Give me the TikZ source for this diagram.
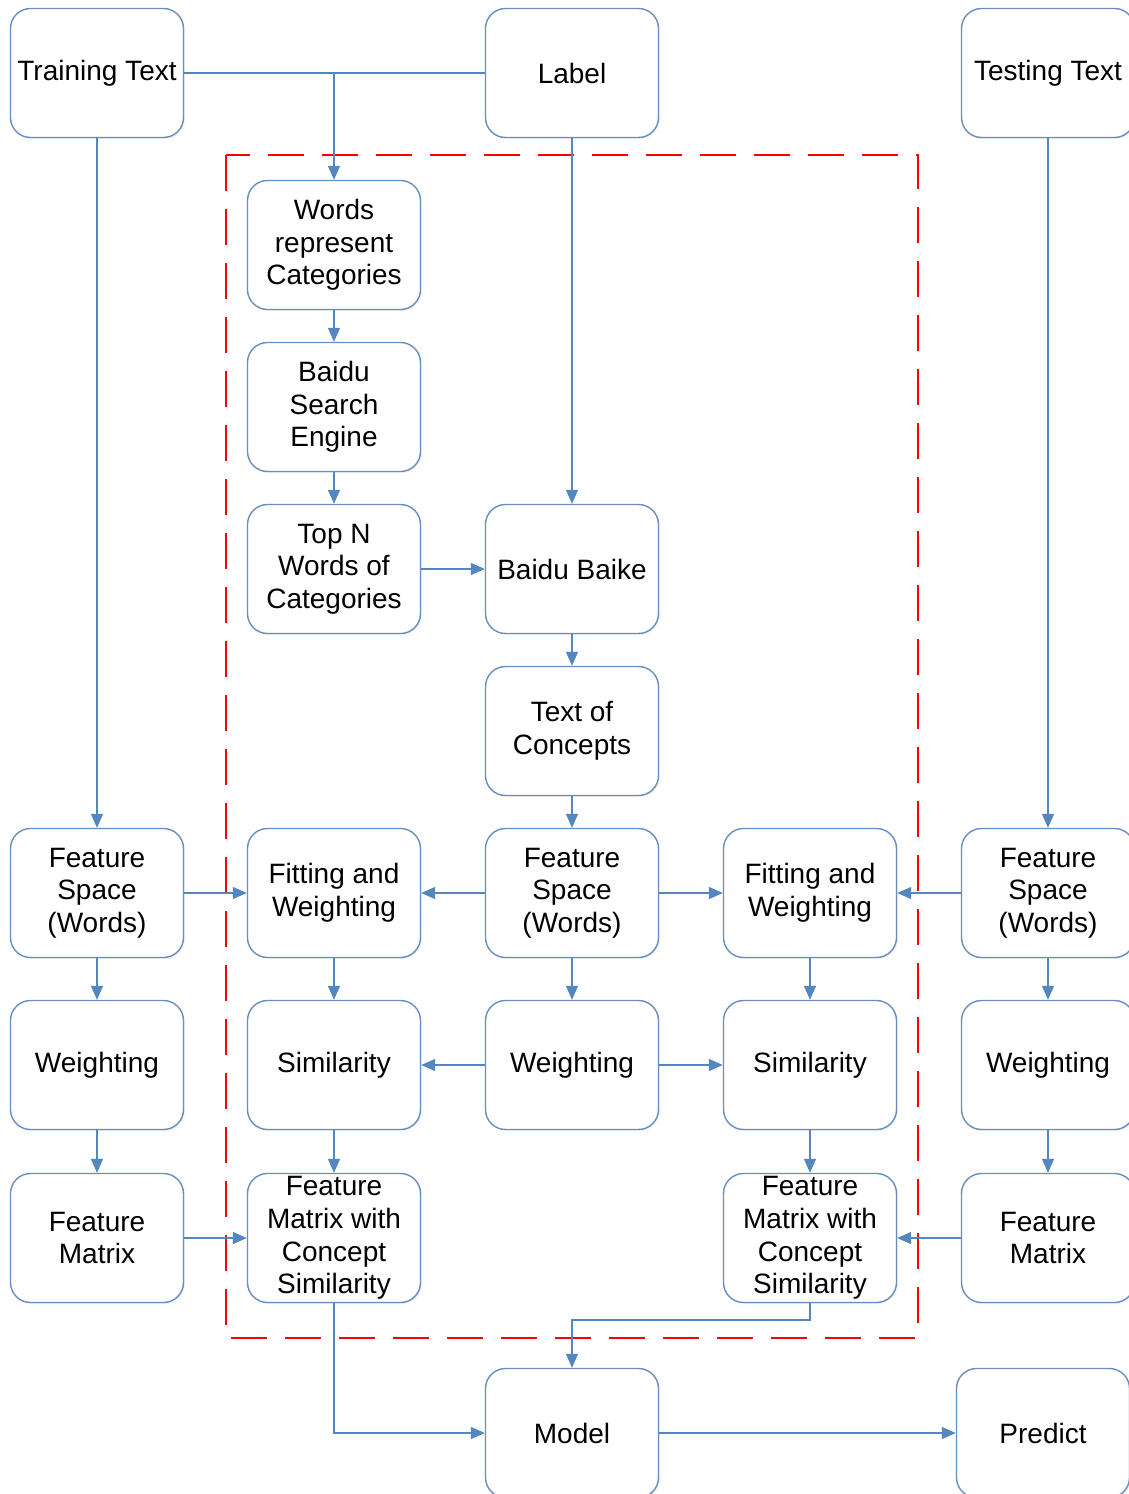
\documentclass[tikz,border=0pt]{standalone}
\usepackage{fontspec}
\setmainfont{Liberation Sans}
\usepackage{tikz}
\usetikzlibrary{arrows.meta, shadows}
\definecolor{boxblue}{RGB}{104,142,190}
\definecolor{linkblue}{RGB}{84,134,192}
\definecolor{framered}{RGB}{255,0,0}

\begin{document}
\begin{tikzpicture}[x=0.5pt, y=-0.5pt,
  every node/.style={font=\fontsize{14}{16.3}\selectfont},
  block/.style={draw=boxblue, fill=white, rounded corners=10pt, line width=0.7pt, minimum width=86.5pt, minimum height=64.5pt, align=center, inner sep=1pt, drop shadow={opacity=0.12, shadow xshift=0.7pt, shadow yshift=-0.7pt}},
  conn/.style={-{Triangle[length=7pt, width=6pt]}, linkblue, line width=0.65pt},
  link/.style={linkblue, line width=0.65pt}
]
\useasboundingbox (0,0) rectangle (1129,1494);

% Concept frame
\draw[framered, line width=1pt, dash pattern=on 18pt off 9pt] (226,155) rectangle (918,1338);

% Inputs
\node[block] (train) at (97,73) {Training Text};
\node[block] (label) at (572,73) {Label};
\node[block] (test) at (1048,73) {Testing Text};

% Concept words
\node[block] (words) at (334,245) {Words\\represent\\Categories};
\node[block] (search) at (334,407) {Baidu\\Search\\Engine};
\node[block] (topn) at (334,569) {Top N\\Words of\\Categories};
\node[block] (baike) at (572,569) {Baidu Baike};
\node[block] (concept) at (572,731) {Text of\\Concepts};

% Feature space row
\node[block] (fsl) at (97,893) {Feature\\Space\\(Words)};
\node[block] (fitl) at (334,893) {Fitting and\\Weighting};
\node[block] (fsc) at (572,893) {Feature\\Space\\(Words)};
\node[block] (fitr) at (810,893) {Fitting and\\Weighting};
\node[block] (fsr) at (1048,893) {Feature\\Space\\(Words)};

% Weighting row
\node[block] (wl) at (97,1065) {Weighting};
\node[block] (siml) at (334,1065) {Similarity};
\node[block] (wc) at (572,1065) {Weighting};
\node[block] (simr) at (810,1065) {Similarity};
\node[block] (wr) at (1048,1065) {Weighting};

% Matrix row
\node[block] (fml) at (97,1238) {Feature\\Matrix};
\node[block] (fmcl) at (334,1238) {Feature\\Matrix with\\Concept\\Similarity};
\node[block] (fmcr) at (810,1238) {Feature\\Matrix with\\Concept\\Similarity};
\node[block] (fmr) at (1048,1238) {Feature\\Matrix};

% Output
\node[block] (model) at (572,1433) {Model};
\node[block] (pred) at (1043,1433) {Predict};

% Connections
\coordinate (split) at (334,73);
\coordinate (merge) at (810,1320);
\draw[link] (train) -- (label);
\draw[conn] (split) -- (words);
\draw[conn] (label) -- (baike);
\draw[conn] (train) -- (fsl);
\draw[conn] (test) -- (fsr);
\draw[conn] (words) -- (search);
\draw[conn] (search) -- (topn);
\draw[conn] (topn) -- (baike);
\draw[conn] (baike) -- (concept);
\draw[conn] (concept) -- (fsc);

\draw[conn] (fsl) -- (fitl);
\draw[conn] (fsc) -- (fitl);
\draw[conn] (fsc) -- (fitr);
\draw[conn] (fsr) -- (fitr);

\draw[conn] (fsl) -- (wl);
\draw[conn] (wl) -- (fml);
\draw[conn] (fitl) -- (siml);
\draw[conn] (siml) -- (fmcl);
\draw[conn] (fsc) -- (wc);
\draw[conn] (wc) -- (siml);
\draw[conn] (wc) -- (simr);
\draw[conn] (fitr) -- (simr);
\draw[conn] (simr) -- (fmcr);
\draw[conn] (fsr) -- (wr);
\draw[conn] (wr) -- (fmr);

\draw[conn] (fml) -- (fmcl);
\draw[conn] (fmr) -- (fmcr);

\draw[conn] (fmcl) |- (model);
\draw[conn] (fmcr) -- (merge) -| (model);
\draw[conn] (model) -- (pred);

\end{tikzpicture}
\end{document}
